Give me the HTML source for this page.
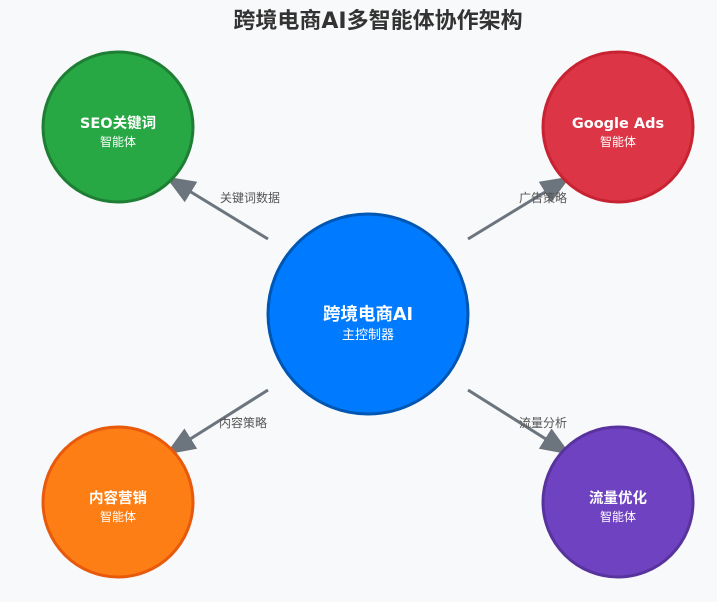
<!DOCTYPE html>
<html><head><meta charset="utf-8"><style>
html,body{margin:0;padding:0;background:#f8f9fa;}
svg{display:block;font-family:"DejaVu Sans","Noto Sans CJK SC",sans-serif;}
</style></head><body>
<svg width="717" height="602" viewBox="0 0 717 602">
<defs><marker id="a" markerWidth="10" markerHeight="8" refX="9" refY="4" orient="auto" markerUnits="strokeWidth"><path d="M0,0 L10,4 L0,8 Z" fill="#6c757d"/></marker></defs>
<text x="378" y="28" text-anchor="middle" font-size="22" font-weight="bold" fill="#333">跨境电商AI多智能体协作架构</text>
<g stroke="#6c757d" stroke-width="3" marker-end="url(#a)">
<line x1="268" y1="239" x2="168" y2="178"/>
<line x1="468" y1="239" x2="568" y2="178"/>
<line x1="268" y1="390" x2="168" y2="453"/>
<line x1="468" y1="390" x2="568" y2="453"/>
</g>
<g font-size="12" fill="#555" text-anchor="middle">
<text x="250" y="202">关键词数据</text>
<text x="543" y="202">广告策略</text>
<text x="243" y="427">内容策略</text>
<text x="543" y="427">流量分析</text>
</g>
<circle cx="368" cy="314" r="100" fill="#007bff" stroke="#0056b3" stroke-width="3"/>
<circle cx="118" cy="127" r="75" fill="#28a745" stroke="#1e7e34" stroke-width="3"/>
<circle cx="618" cy="127" r="75" fill="#dc3545" stroke="#c82333" stroke-width="3"/>
<circle cx="118" cy="502" r="75" fill="#fd7e14" stroke="#e8590c" stroke-width="3"/>
<circle cx="618" cy="502" r="75" fill="#6f42c1" stroke="#59339d" stroke-width="3"/>
<g fill="#fff" text-anchor="middle">
<text x="368" y="320" font-size="17.5" font-weight="bold">跨境电商AI</text>
<text x="368" y="339" font-size="13">主控制器</text>
<text x="118" y="128" font-size="14.5" font-weight="bold">SEO关键词</text>
<text x="118" y="146" font-size="12">智能体</text>
<text x="618" y="128" font-size="14.5" font-weight="bold">Google Ads</text>
<text x="618" y="146" font-size="12">智能体</text>
<text x="118" y="503" font-size="14.5" font-weight="bold">内容营销</text>
<text x="118" y="521" font-size="12">智能体</text>
<text x="618" y="503" font-size="14.5" font-weight="bold">流量优化</text>
<text x="618" y="521" font-size="12">智能体</text>
</g>
</svg>
</body></html>
